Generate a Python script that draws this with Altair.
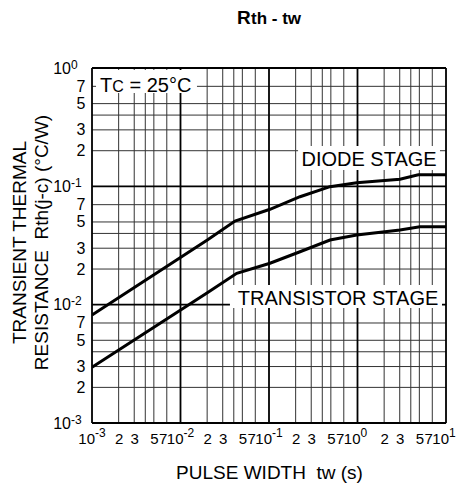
import math
import altair as alt
import pandas as pd

FONT = "Liberation Sans"

# Transient thermal resistance Rth(j-c) (°C/W) versus pulse width tw (s)
diode_tw = [0.001, 0.0201, 0.0413, 0.1026, 0.224, 0.489, 0.98, 3.02, 4.86, 10.0]
diode_rth = [0.00818, 0.0352, 0.0509, 0.064, 0.0817, 0.0993, 0.107, 0.115, 0.125, 0.125]
trans_tw = [0.001, 0.0201, 0.0432, 0.1026, 0.224, 0.489, 0.98, 3.02, 5.07, 10.0]
trans_rth = [0.00296, 0.0126, 0.0184, 0.0224, 0.028, 0.0352, 0.0388, 0.0428, 0.0456, 0.0456]

# Log-grid layout: decades and the mantissas that get a grid line / a label
x_decades = [-3, -2, -1, 0]
y_decades = [-3, -2, -1]
grid_mantissas = [1, 2, 3, 4, 5, 7]
label_mantissas = [1, 2, 3, 5, 7]

# Curve annotations (white boxes behind the captions)
box_x = [0.00111, 0.213, 0.0362]
box_x2 = [0.01535, 8.55, 9.01]
box_y = [0.962, 0.219, 0.01466]
box_y2 = [0.615, 0.1374, 0.00937]
caption_text = ["DIODE STAGE", "TRANSISTOR STAGE"]
caption_x = [7.85, 8.18]
caption_y = [0.1485, 0.01003]
tc_x = 0.00123
tc_y = 0.627


def val(m, e):
    return float(f"{m}e{e}")


def ticks(decades, mantissas, last):
    out = [val(m, e) for e in decades for m in mantissas]
    out.append(val(1, last))
    return out


def is_decade(v):
    return abs(v - val(1, round(math.log10(v)))) < v * 1e-6


def label_text(v):
    # decades are drawn as "10" plus a raised exponent by separate text layers
    if is_decade(v):
        return ""
    return str(round(v / val(1, math.floor(math.log10(v) + 1e-9))))


def label_expr(values):
    parts = [f"abs(datum.value - {v!r}) < {v * 0.01!r} ? '{label_text(v)}' : " for v in values]
    return "".join(parts) + "''"


x_grid = ticks(x_decades, grid_mantissas, 1)
y_grid = ticks(y_decades, grid_mantissas, 0)
x_labels = ticks(x_decades, label_mantissas, 1)
y_labels = ticks(y_decades, label_mantissas, 0)

W, H = 354, 355

xscale = alt.Scale(type="log", domain=[1e-3, 10], nice=False)
yscale = alt.Scale(type="log", domain=[1e-3, 1], nice=False)

is_seven = "abs(datum.value / pow(10, floor(log(datum.value) / LN10 + 1e-9)) - 7) < 0.01"

x_axis = alt.Axis(
    values=x_labels, labelExpr=label_expr(x_labels), grid=False, ticks=False, domain=False,
    labelFont=FONT, labelFontSize=15, labelColor="black", labelPadding=8,
    labelAlign={"condition": {"test": is_seven, "value": "right"}, "value": "center"},
    labelOverlap=False, labelFlush=False, labelBound=False,
    title="PULSE WIDTH\u00a0 tw (s)", titleFont=FONT, titleFontSize=19,
    titleFontWeight="normal", titleColor="black", titleX=W / 2, titleY=55,
    titleBaseline="alphabetic", titleAlign="center",
)
y_axis = alt.Axis(
    values=y_labels, labelExpr=label_expr(y_labels), grid=False, ticks=False, domain=False,
    labelFont=FONT, labelFontSize=16, labelColor="black", labelPadding=7,
    labelOverlap=False, labelFlush=False, labelBound=False,
    title=["TRANSIENT THERMAL", "RESISTANCE\u00a0 Rth(j-c) (°C/W)"],
    titleFont=FONT, titleFontSize=19, titleFontWeight="normal", titleColor="black",
    titleAngle=270, titleX=-67, titleY=174, titleAlign="center",
    titleBaseline="alphabetic", titleLineHeight=22,
)

X = lambda f: alt.X(f, type="quantitative", scale=xscale, axis=x_axis)
Y = lambda f: alt.Y(f, type="quantitative", scale=yscale, axis=y_axis)

gx = pd.DataFrame({"v": x_grid})
gx["major"] = [is_decade(v) for v in x_grid]
gy = pd.DataFrame({"v": y_grid})
gy["major"] = [is_decade(v) for v in y_grid]

vminor = alt.Chart(gx[~gx["major"]]).mark_rule(color="#333", strokeWidth=1).encode(x=X("v"))
vmajor = alt.Chart(gx[gx["major"]]).mark_rule(color="black", strokeWidth=1.8).encode(x=X("v"))
hminor = alt.Chart(gy[~gy["major"]]).mark_rule(color="#333", strokeWidth=1).encode(y=Y("v"))
hmajor = alt.Chart(gy[gy["major"]]).mark_rule(color="black", strokeWidth=1.8).encode(y=Y("v"))

# Decade tick labels: "10" with a raised exponent
xdec = pd.DataFrame({"v": [val(1, e) for e in x_decades + [1]],
                     "e": [str(e) for e in x_decades + [1]]})
ydec = pd.DataFrame({"v": [val(1, e) for e in y_decades + [0]],
                     "e": [str(e) for e in y_decades + [0]]})
tick_style = dict(font=FONT, color="black", baseline="alphabetic")
x_ten = alt.Chart(xdec).mark_text(fontSize=15, align="right", dx=3, text="10", **tick_style).encode(
    x=X("v"), y=alt.value(H + 21))
x_exp = alt.Chart(xdec).mark_text(fontSize=12, align="left", dx=3, **tick_style).encode(
    x=X("v"), y=alt.value(H + 14), text="e:N")
y_ten = alt.Chart(ydec).mark_text(fontSize=16, align="right", dy=5.5, text="10", **tick_style).encode(
    y=Y("v"), x=alt.value(-21))
y_exp = alt.Chart(ydec).mark_text(fontSize=12, align="left", dy=0.5, **tick_style).encode(
    y=Y("v"), x=alt.value(-21), text="e:N")

boxes = alt.Chart(pd.DataFrame({"x": box_x, "x2": box_x2, "y": box_y, "y2": box_y2})).mark_rect(
    color="white"
).encode(x=X("x"), x2="x2", y=Y("y"), y2="y2")

curves = pd.concat([
    pd.DataFrame({"tw": diode_tw, "rth": diode_rth, "stage": "diode"}),
    pd.DataFrame({"tw": trans_tw, "rth": trans_rth, "stage": "transistor"}),
])
lines = alt.Chart(curves).mark_line(color="black", strokeWidth=3, clip=True).encode(
    x=X("tw"), y=Y("rth"), detail="stage:N"
)

captions = alt.Chart(pd.DataFrame({"x": caption_x, "y": caption_y, "t": caption_text})).mark_text(
    font=FONT, fontSize=20, align="right", baseline="alphabetic", color="black"
).encode(x=X("x"), y=Y("y"), text="t:N")

tc_df = pd.DataFrame({"x": [tc_x], "y": [tc_y]})
tc_t = alt.Chart(tc_df).mark_text(
    font=FONT, fontSize=20, align="left", baseline="alphabetic", color="black", text="T"
).encode(x=X("x"), y=Y("y"))
tc_c = alt.Chart(tc_df).mark_text(
    font=FONT, fontSize=16, align="left", baseline="alphabetic", color="black", text="C", dx=12.2
).encode(x=X("x"), y=Y("y"))
tc_rest = alt.Chart(tc_df).mark_text(
    font=FONT, fontSize=20, align="left", baseline="alphabetic", color="black",
    text="= 25°C", dx=29.5
).encode(x=X("x"), y=Y("y"))

# Heading "Rth - tw" with a large R and smaller "th - tw"
head_r = alt.Chart(tc_df).mark_text(
    font=FONT, fontSize=19, fontWeight="bold", align="left", baseline="alphabetic",
    color="black", text="R"
).encode(x=alt.value(145), y=alt.value(-44))
head_rest = alt.Chart(tc_df).mark_text(
    font=FONT, fontSize=17, fontWeight="bold", align="left", baseline="alphabetic",
    color="black", text="th - tw", dx=14
).encode(x=alt.value(145), y=alt.value(-44))

chart = alt.layer(
    vminor, hminor, vmajor, hmajor, boxes, lines, captions, tc_t, tc_c, tc_rest,
    x_ten, x_exp, y_ten, y_exp, head_r, head_rest
).properties(
    width=W, height=H,
    autosize=alt.AutoSizeParams(type="none"),
    padding={"left": 92, "top": 68, "right": 15, "bottom": 73},
).configure_view(stroke="black", strokeWidth=3).configure(background="white")

chart.save("out.html", embed_options={"renderer": "svg", "actions": False})
